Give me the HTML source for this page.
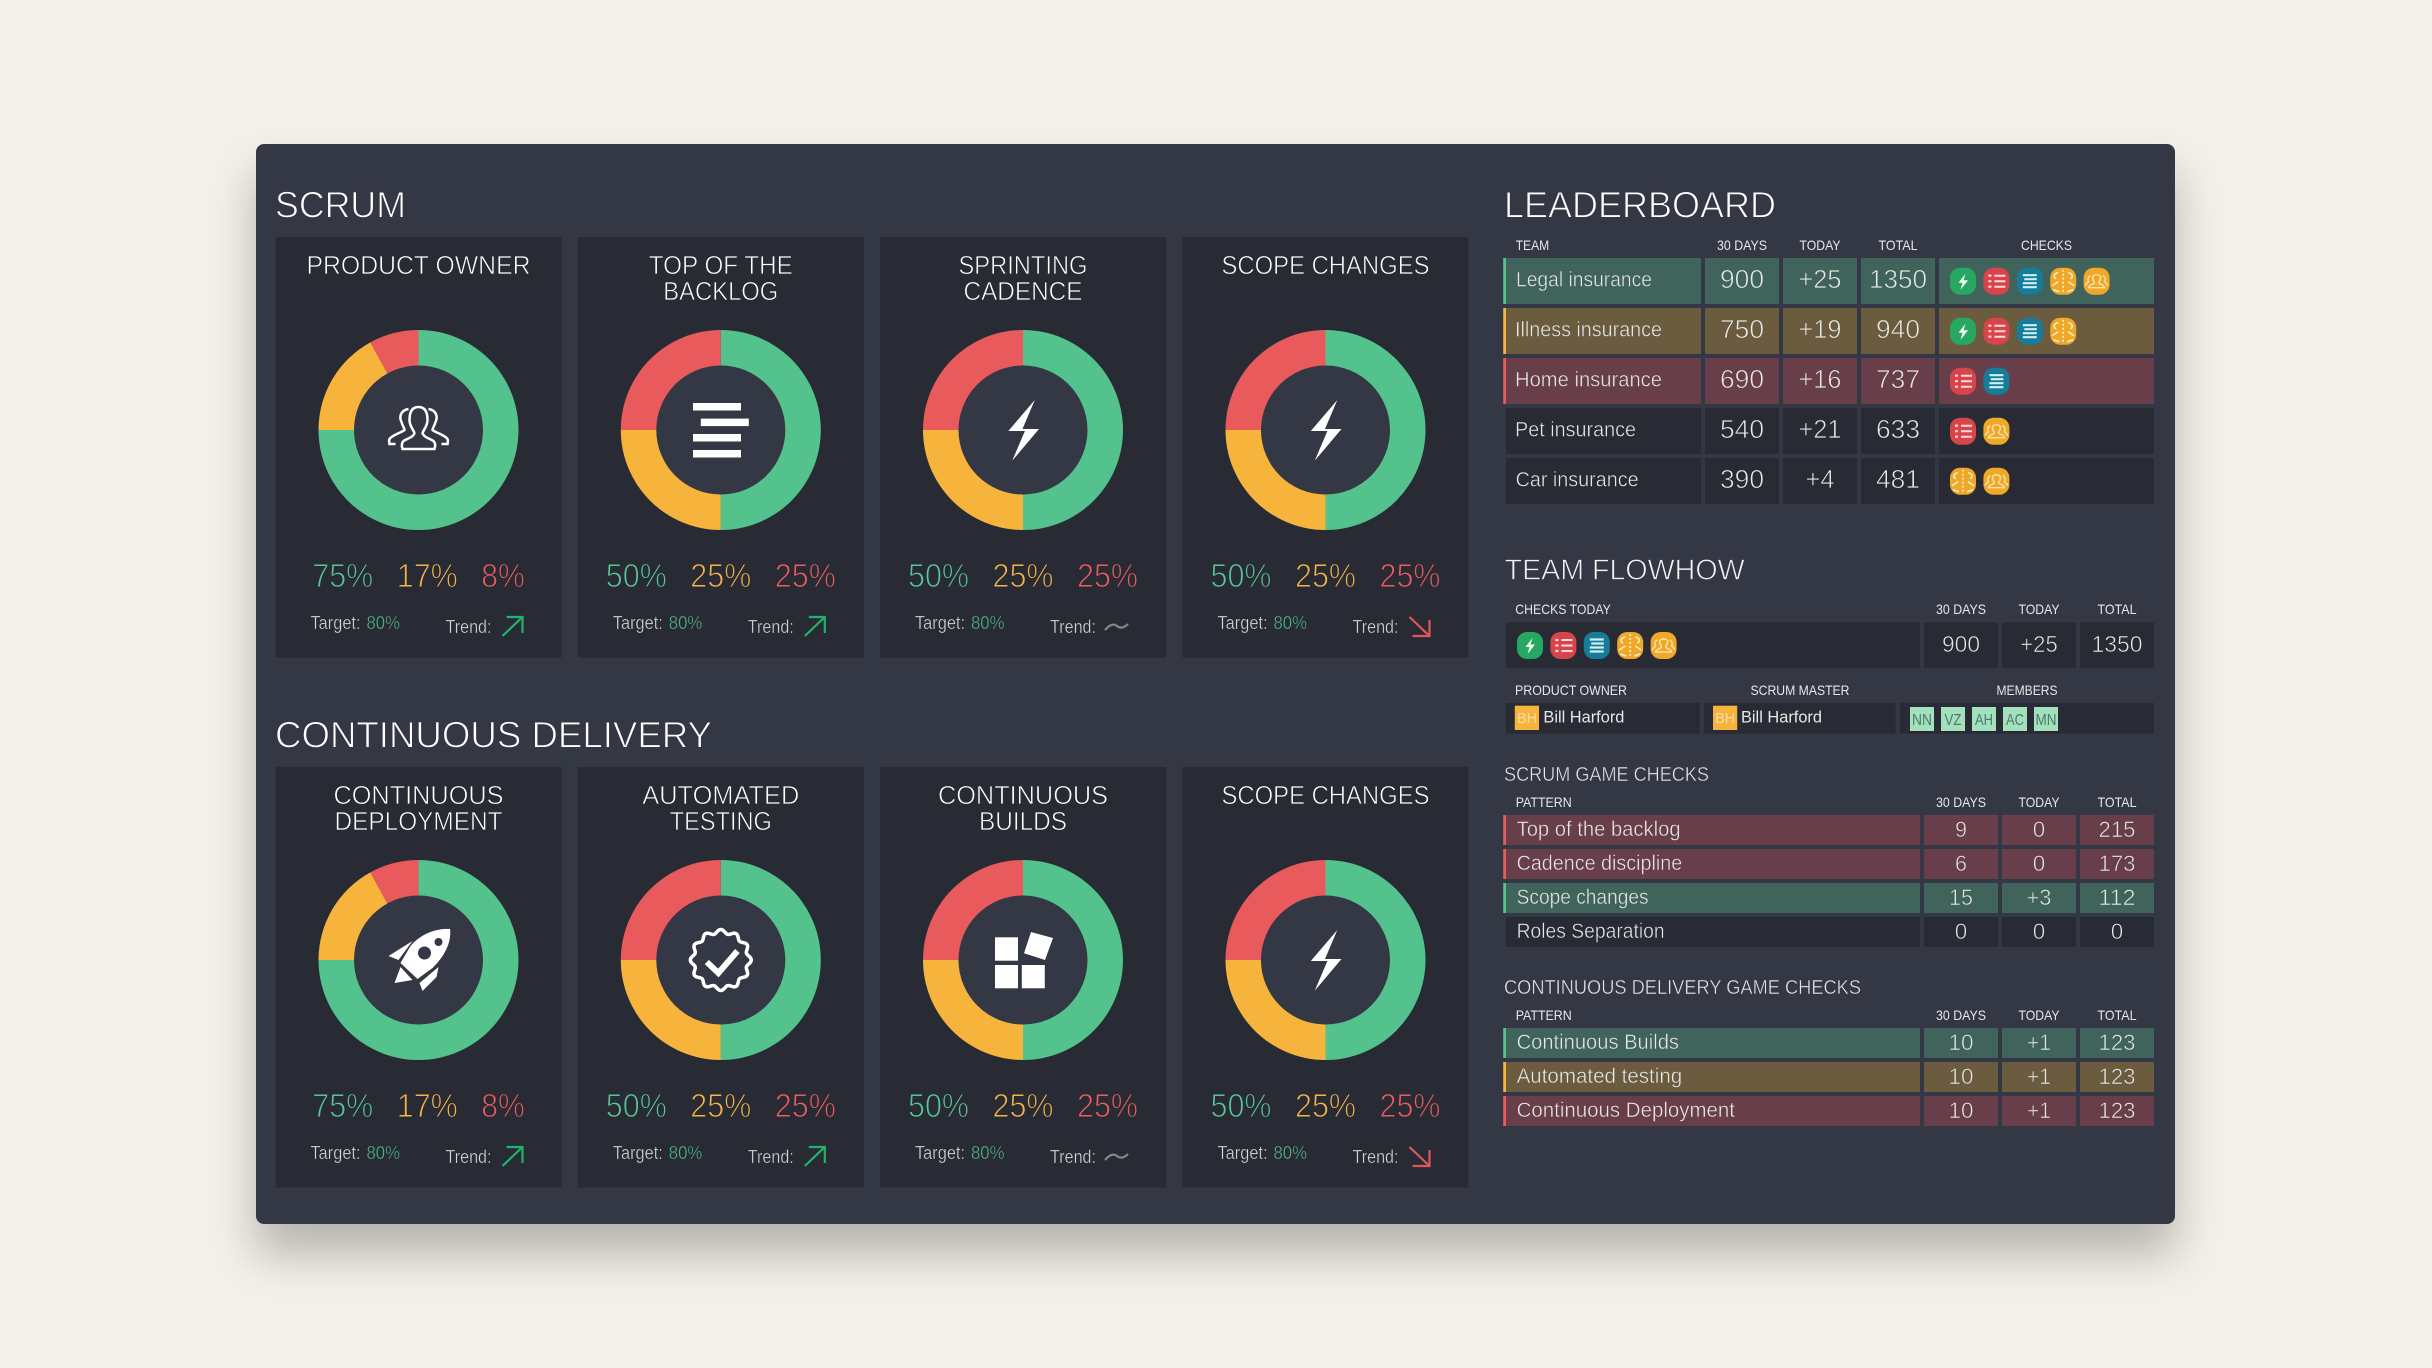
<!DOCTYPE html>
<html lang="en">
<head>
<meta charset="utf-8">
<title>Scrum dashboard</title>
<style>
html,body{margin:0;padding:0;width:2432px;height:1368px;overflow:hidden;background:#f3f0e9;font-family:"Liberation Sans",sans-serif}
#panel{position:absolute;left:256px;top:144px;width:1919px;height:1080px;border-radius:8px;background:#343744;box-shadow:0 30px 45px rgba(0,0,0,.25)}
#stage{position:absolute;left:0;top:0}
text{font-family:"Liberation Sans",sans-serif;fill:#e6e8e6;stroke-width:.45px}
.card{fill:#292b34}
.h1{font-size:37px;fill:#fff;stroke-width:1px}
.h2{font-size:29px;fill:#f2f3f2;stroke-width:.8px}
.h3{font-size:20px;fill:#e6e8e6;stroke-width:.45px}
.ct{font-size:26px;text-anchor:middle;fill:#fff;stroke-width:.7px}
.tg{font-size:18px;fill:#d5d9d9;stroke-width:.35px}
.tv{font-size:18px;fill:#4fb386;stroke-width:.35px}
.pc{font-size:33px;stroke-width:1px;stroke:#292b34}
.th{font-size:14px;fill:#e6e8e6;stroke-width:0}
.mid{text-anchor:middle}
.name{font-size:21px}
.val{font-size:26px;text-anchor:middle;stroke-width:.7px}
.val2{font-size:23px;text-anchor:middle;stroke-width:.6px}
.val3{font-size:22px;text-anchor:middle;stroke-width:.6px}
.cg{fill:#40645c}.co{fill:#6b5b3f}.cr{fill:#673e49}.cd{fill:#292b34}
.ag{fill:#54c28d}.ao{fill:#f6b43c}.ar{fill:#e85a5c}
.up{fill:none;stroke:#1fb36b;stroke-width:2.2}
.dn{fill:none;stroke:#e0565a;stroke-width:2.2}
.fl{fill:none;stroke:#85868c;stroke-width:2.2}
.hole{fill:#343744}
</style>
</head>
<body>
<div id="panel"></div>
<svg id="stage" width="2432" height="1368" viewBox="0 0 2432 1368" xmlns="http://www.w3.org/2000/svg">
<defs>
<g id="b-bolt"><rect width="26" height="27" rx="10" fill="#27a862"/><polygon points="15.5,6 8.5,15 12.5,15 10.5,22 18,12.5 13.5,12.5" fill="#f2fff6"/></g>
<g id="b-list"><rect width="26" height="27" rx="10" fill="#d9434a"/><path d="M11,8H22M11,13.5H22M11,19H22" stroke="#ffdcdc" stroke-width="2" fill="none"/><path d="M5,8H8M5,13.5H8M5,19H8" stroke="#ffdcdc" stroke-width="2.2" fill="none"/></g>
<g id="b-lines"><rect width="26" height="27" rx="10" fill="#167c99"/><path d="M6,7.5H20M7.5,11.5H20M6,15.5H20M6,19.5H20" stroke="#cdf0f4" stroke-width="2.2" fill="none"/></g>
<g id="b-play"><rect width="26" height="27" rx="10" fill="#f0a828"/><path d="M13,2V25" stroke="#ffeecb" stroke-width="1.6" stroke-dasharray="2 2" fill="none"/><path d="M8,5C3,6 3,10 6,11M2,18L8,14M3,22L9,24M18,5C23,6 23,10 20,11M24,18L18,14M23,22L17,24" stroke="#ffeecb" stroke-width="1.5" fill="none"/></g>
<g id="b-people"><rect width="26" height="27" rx="10" fill="#f0a828"/><path d="M9,10C9,6 17,6 17,10C17,13 15,14 15,15C16,17 21,17 21,20H5C5,17 10,17 11,15C11,14 9,13 9,10ZM7,8C4,9 4,12 5,14C4,15 2,16 2,18M19,8C22,9 22,12 21,14C22,15 24,16 24,18" stroke="#ffe3ae" stroke-width="1.4" fill="none"/></g>
<polygon id="ic-bolt" points="11.8,-30 -14.7,1 1.9,1 -10.8,30.7 16,-1 -0.5,-1" fill="#fff"/>
</defs>

<text class="h1" stroke="#343744" x="275" y="217.5" textLength="131" lengthAdjust="spacingAndGlyphs">SCRUM</text>
<text class="h1" stroke="#343744" x="275" y="747.5" textLength="437" lengthAdjust="spacingAndGlyphs">CONTINUOUS DELIVERY</text>

<!-- CARD 0 -->
<g transform="translate(418.5,430)">
<rect class="card" x="-143" y="-193" width="286" height="420.5"/>
<g stroke="#292b34">
<text class="ct" x="0" y="-156" textLength="224" lengthAdjust="spacingAndGlyphs">PRODUCT OWNER</text>
<text class="tg" x="-108" y="199" textLength="50" lengthAdjust="spacingAndGlyphs">Target:</text>
<text class="tv" x="-52" y="199" textLength="33.5" lengthAdjust="spacingAndGlyphs">80%</text>
<text class="tg" x="27" y="203" textLength="46" lengthAdjust="spacingAndGlyphs">Trend:</text>
</g>
<path class="up" d="M84,206L104,187M88,187H104V203"/>
<g id="donut-0"></g>
<circle class="hole" r="64.5"/>
<g fill="none" stroke="#fff" stroke-width="2.5">
<path d="M-9,-10C-9,-20 -5,-23 0,-23C5,-23 9,-20 9,-10C9,-4 5,0 4,3C5,7 10,8 15,11C17,13 17,16 16,19L-16,19C-17,16 -17,13 -15,11C-10,8 -5,7 -4,3C-5,0 -9,-4 -9,-10Z"/>
<path d="M-10,-21C-17,-20 -20,-14 -17,-8C-16,-4 -14,-2 -14,0C-18,3 -26,5 -29,9C-30,11 -29,13 -29,14L-23,14"/>
<path d="M10,-21C17,-20 20,-14 17,-8C16,-4 14,-2 14,0C18,3 26,5 29,9C30,11 29,13 29,14L23,14"/>
</g>
</g>

<!-- CARD 1 -->
<g transform="translate(720.8,430)">
<rect class="card" x="-143" y="-193" width="286" height="420.5"/>
<g stroke="#292b34">
<text class="ct" x="0" y="-156" textLength="144" lengthAdjust="spacingAndGlyphs">TOP OF THE</text>
<text class="ct" x="0" y="-130" textLength="115" lengthAdjust="spacingAndGlyphs">BACKLOG</text>
<text class="tg" x="-108" y="199" textLength="50" lengthAdjust="spacingAndGlyphs">Target:</text>
<text class="tv" x="-52" y="199" textLength="33.5" lengthAdjust="spacingAndGlyphs">80%</text>
<text class="tg" x="27" y="203" textLength="46" lengthAdjust="spacingAndGlyphs">Trend:</text>
</g>
<path class="up" d="M84,206L104,187M88,187H104V203"/>
<g id="donut-1"></g>
<circle class="hole" r="64.5"/>
<g fill="#fff">
<rect x="-27.8" y="-27" width="48" height="7.5"/>
<rect x="-20" y="-11.4" width="48" height="7.5"/>
<rect x="-27.8" y="4" width="48" height="7.5"/>
<rect x="-27.8" y="20" width="48" height="7.5"/>
</g>
</g>

<!-- CARD 2 -->
<g transform="translate(1023,430)">
<rect class="card" x="-143" y="-193" width="286" height="420.5"/>
<g stroke="#292b34">
<text class="ct" x="0" y="-156" textLength="129" lengthAdjust="spacingAndGlyphs">SPRINTING</text>
<text class="ct" x="0" y="-130" textLength="119" lengthAdjust="spacingAndGlyphs">CADENCE</text>
<text class="tg" x="-108" y="199" textLength="50" lengthAdjust="spacingAndGlyphs">Target:</text>
<text class="tv" x="-52" y="199" textLength="33.5" lengthAdjust="spacingAndGlyphs">80%</text>
<text class="tg" x="27" y="203" textLength="46" lengthAdjust="spacingAndGlyphs">Trend:</text>
</g>
<path class="fl" d="M82,200Q89,192 94,196T105,194"/>
<g id="donut-2"></g>
<circle class="hole" r="64.5"/>
<use href="#ic-bolt"/>
</g>

<!-- CARD 3 -->
<g transform="translate(1325.5,430)">
<rect class="card" x="-143" y="-193" width="286" height="420.5"/>
<g stroke="#292b34">
<text class="ct" x="0" y="-156" textLength="208" lengthAdjust="spacingAndGlyphs">SCOPE CHANGES</text>
<text class="tg" x="-108" y="199" textLength="50" lengthAdjust="spacingAndGlyphs">Target:</text>
<text class="tv" x="-52" y="199" textLength="33.5" lengthAdjust="spacingAndGlyphs">80%</text>
<text class="tg" x="27" y="203" textLength="46" lengthAdjust="spacingAndGlyphs">Trend:</text>
</g>
<path class="dn" d="M84,187L104,206M104,190V206H87"/>
<g id="donut-3"></g>
<circle class="hole" r="64.5"/>
<use href="#ic-bolt"/>
</g>

<!-- CARD 4 -->
<g transform="translate(418.5,960)">
<rect class="card" x="-143" y="-193" width="286" height="420.5"/>
<g stroke="#292b34">
<text class="ct" x="0" y="-156" textLength="170" lengthAdjust="spacingAndGlyphs">CONTINUOUS</text>
<text class="ct" x="0" y="-130" textLength="168" lengthAdjust="spacingAndGlyphs">DEPLOYMENT</text>
<text class="tg" x="-108" y="199" textLength="50" lengthAdjust="spacingAndGlyphs">Target:</text>
<text class="tv" x="-52" y="199" textLength="33.5" lengthAdjust="spacingAndGlyphs">80%</text>
<text class="tg" x="27" y="203" textLength="46" lengthAdjust="spacingAndGlyphs">Trend:</text>
</g>
<path class="up" d="M84,206L104,187M88,187H104V203"/>
<g id="donut-4"></g>
<circle class="hole" r="64.5"/>
<g fill="#fff">
<path d="M31.6,-31C18,-32 2,-26 -8,-14L-18,3L-1,19L14,8C26,-4 33,-17 31.6,-31Z"/>
<path d="M-30,-4L-6,-19L-20,0Z"/>
<path d="M-24,23L-18,7L-6,20Z"/>
<path d="M4,31L1,23L20,7L18,17Z"/>
<circle class="hole" cx="6" cy="-7" r="6.5"/>
<circle class="hole" cx="20" cy="-18" r="4"/>
</g>
</g>

<!-- CARD 5 -->
<g transform="translate(720.8,960)">
<rect class="card" x="-143" y="-193" width="286" height="420.5"/>
<g stroke="#292b34">
<text class="ct" x="0" y="-156" textLength="157" lengthAdjust="spacingAndGlyphs">AUTOMATED</text>
<text class="ct" x="0" y="-130" textLength="102" lengthAdjust="spacingAndGlyphs">TESTING</text>
<text class="tg" x="-108" y="199" textLength="50" lengthAdjust="spacingAndGlyphs">Target:</text>
<text class="tv" x="-52" y="199" textLength="33.5" lengthAdjust="spacingAndGlyphs">80%</text>
<text class="tg" x="27" y="203" textLength="46" lengthAdjust="spacingAndGlyphs">Trend:</text>
</g>
<path class="up" d="M84,206L104,187M88,187H104V203"/>
<g id="donut-5"></g>
<circle class="hole" r="64.5"/>
<g fill="none" stroke="#fff">
<path id="wavy-badge" stroke-width="3.5"/>
<path d="M-14,2L-2.4,13L16.6,-9" stroke-width="6"/>
</g>
</g>

<!-- CARD 6 -->
<g transform="translate(1023,960)">
<rect class="card" x="-143" y="-193" width="286" height="420.5"/>
<g stroke="#292b34">
<text class="ct" x="0" y="-156" textLength="170" lengthAdjust="spacingAndGlyphs">CONTINUOUS</text>
<text class="ct" x="0" y="-130" textLength="88" lengthAdjust="spacingAndGlyphs">BUILDS</text>
<text class="tg" x="-108" y="199" textLength="50" lengthAdjust="spacingAndGlyphs">Target:</text>
<text class="tv" x="-52" y="199" textLength="33.5" lengthAdjust="spacingAndGlyphs">80%</text>
<text class="tg" x="27" y="203" textLength="46" lengthAdjust="spacingAndGlyphs">Trend:</text>
</g>
<path class="fl" d="M82,200Q89,192 94,196T105,194"/>
<g id="donut-6"></g>
<circle class="hole" r="64.5"/>
<g fill="#fff">
<rect x="-28" y="-22.7" width="23" height="23.4"/>
<rect x="-28" y="5" width="23" height="23.3"/>
<rect x="-1.2" y="5" width="23" height="23.3"/>
<polygon points="8,-28 30,-22 22,0 1,-6.7"/>
</g>
</g>

<!-- CARD 7 -->
<g transform="translate(1325.5,960)">
<rect class="card" x="-143" y="-193" width="286" height="420.5"/>
<g stroke="#292b34">
<text class="ct" x="0" y="-156" textLength="208" lengthAdjust="spacingAndGlyphs">SCOPE CHANGES</text>
<text class="tg" x="-108" y="199" textLength="50" lengthAdjust="spacingAndGlyphs">Target:</text>
<text class="tv" x="-52" y="199" textLength="33.5" lengthAdjust="spacingAndGlyphs">80%</text>
<text class="tg" x="27" y="203" textLength="46" lengthAdjust="spacingAndGlyphs">Trend:</text>
</g>
<path class="dn" d="M84,187L104,206M104,190V206H87"/>
<g id="donut-7"></g>
<circle class="hole" r="64.5"/>
<use href="#ic-bolt"/>
</g>

<!-- LEADERBOARD -->
<text class="h1" stroke="#343744" x="1504" y="217.7" textLength="272" lengthAdjust="spacingAndGlyphs">LEADERBOARD</text>
<g>
<text class="th" x="1515.7" y="250" textLength="33.5" lengthAdjust="spacingAndGlyphs">TEAM</text>
<text class="th mid" x="1742" y="250" textLength="50" lengthAdjust="spacingAndGlyphs">30 DAYS</text>
<text class="th mid" x="1820" y="250" textLength="41" lengthAdjust="spacingAndGlyphs">TODAY</text>
<text class="th mid" x="1898" y="250" textLength="39" lengthAdjust="spacingAndGlyphs">TOTAL</text>
<text class="th mid" x="2046.5" y="250" textLength="51" lengthAdjust="spacingAndGlyphs">CHECKS</text>
</g>

<g transform="translate(0,258)">
<rect class="ag" x="1503.2" width="3" height="46"/>
<rect class="cg" x="1506" width="195" height="46"/><rect class="cg" x="1705" width="74" height="46"/><rect class="cg" x="1783" width="74" height="46"/><rect class="cg" x="1861" width="74" height="46"/><rect class="cg" x="1939" width="215" height="46"/>
<g stroke="#40645c">
<text class="name" x="1516" y="28.7" textLength="136" lengthAdjust="spacingAndGlyphs">Legal insurance</text>
<text class="val" x="1742" y="30" textLength="44" lengthAdjust="spacingAndGlyphs">900</text>
<text class="val" x="1820" y="30" textLength="43" lengthAdjust="spacingAndGlyphs">+25</text>
<text class="val" x="1898" y="30" textLength="58" lengthAdjust="spacingAndGlyphs">1350</text>
</g>
<use href="#b-bolt" x="1950" y="9.7"/>
<use href="#b-list" x="1983.4" y="9.7"/>
<use href="#b-lines" x="2016.8" y="9.7"/>
<use href="#b-play" x="2050.2" y="9.7"/>
<use href="#b-people" x="2083.6" y="9.7"/>
</g>

<g transform="translate(0,308)">
<rect class="ao" x="1503.2" width="3" height="46"/>
<rect class="co" x="1506" width="195" height="46"/><rect class="co" x="1705" width="74" height="46"/><rect class="co" x="1783" width="74" height="46"/><rect class="co" x="1861" width="74" height="46"/><rect class="co" x="1939" width="215" height="46"/>
<g stroke="#6b5b3f">
<text class="name" x="1515" y="28.7" textLength="147" lengthAdjust="spacingAndGlyphs">Illness insurance</text>
<text class="val" x="1742" y="30" textLength="44" lengthAdjust="spacingAndGlyphs">750</text>
<text class="val" x="1820" y="30" textLength="43" lengthAdjust="spacingAndGlyphs">+19</text>
<text class="val" x="1898" y="30" textLength="44" lengthAdjust="spacingAndGlyphs">940</text>
</g>
<use href="#b-bolt" x="1950" y="9.7"/>
<use href="#b-list" x="1983.4" y="9.7"/>
<use href="#b-lines" x="2016.8" y="9.7"/>
<use href="#b-play" x="2050.2" y="9.7"/>
</g>

<g transform="translate(0,358)">
<rect class="ar" x="1503.2" width="3" height="46"/>
<rect class="cr" x="1506" width="195" height="46"/><rect class="cr" x="1705" width="74" height="46"/><rect class="cr" x="1783" width="74" height="46"/><rect class="cr" x="1861" width="74" height="46"/><rect class="cr" x="1939" width="215" height="46"/>
<g stroke="#673e49">
<text class="name" x="1515" y="28.7" textLength="147" lengthAdjust="spacingAndGlyphs">Home insurance</text>
<text class="val" x="1742" y="30" textLength="44" lengthAdjust="spacingAndGlyphs">690</text>
<text class="val" x="1820" y="30" textLength="43" lengthAdjust="spacingAndGlyphs">+16</text>
<text class="val" x="1898" y="30" textLength="44" lengthAdjust="spacingAndGlyphs">737</text>
</g>
<use href="#b-list" x="1950" y="9.7"/>
<use href="#b-lines" x="1983.4" y="9.7"/>
</g>

<g transform="translate(0,408)">
<rect class="cd" x="1506" width="195" height="46"/><rect class="cd" x="1705" width="74" height="46"/><rect class="cd" x="1783" width="74" height="46"/><rect class="cd" x="1861" width="74" height="46"/><rect class="cd" x="1939" width="215" height="46"/>
<g stroke="#292b34">
<text class="name" x="1515" y="28.7" textLength="121" lengthAdjust="spacingAndGlyphs">Pet insurance</text>
<text class="val" x="1742" y="30" textLength="44" lengthAdjust="spacingAndGlyphs">540</text>
<text class="val" x="1820" y="30" textLength="43" lengthAdjust="spacingAndGlyphs">+21</text>
<text class="val" x="1898" y="30" textLength="44" lengthAdjust="spacingAndGlyphs">633</text>
</g>
<use href="#b-list" x="1950" y="9.7"/>
<use href="#b-people" x="1983.4" y="9.7"/>
</g>

<g transform="translate(0,458)">
<rect class="cd" x="1506" width="195" height="46"/><rect class="cd" x="1705" width="74" height="46"/><rect class="cd" x="1783" width="74" height="46"/><rect class="cd" x="1861" width="74" height="46"/><rect class="cd" x="1939" width="215" height="46"/>
<g stroke="#292b34">
<text class="name" x="1515.6" y="28.7" textLength="123" lengthAdjust="spacingAndGlyphs">Car insurance</text>
<text class="val" x="1742" y="30" textLength="44" lengthAdjust="spacingAndGlyphs">390</text>
<text class="val" x="1820" y="30" textLength="29" lengthAdjust="spacingAndGlyphs">+4</text>
<text class="val" x="1898" y="30" textLength="44" lengthAdjust="spacingAndGlyphs">481</text>
</g>
<use href="#b-play" x="1950" y="9.7"/>
<use href="#b-people" x="1983.4" y="9.7"/>
</g>

<!-- TEAM FLOWHOW -->
<text class="h2" stroke="#343744" x="1504.6" y="579.3" textLength="240" lengthAdjust="spacingAndGlyphs">TEAM FLOWHOW</text>
<g>
<text class="th" x="1515.3" y="614" textLength="95.5" lengthAdjust="spacingAndGlyphs">CHECKS TODAY</text>
<text class="th mid" x="1961" y="614" textLength="50" lengthAdjust="spacingAndGlyphs">30 DAYS</text>
<text class="th mid" x="2039" y="614" textLength="41" lengthAdjust="spacingAndGlyphs">TODAY</text>
<text class="th mid" x="2117" y="614" textLength="39" lengthAdjust="spacingAndGlyphs">TOTAL</text>
</g>
<g>
<rect class="cd" x="1506" y="622.7" width="414" height="45"/><rect class="cd" x="1924" y="622.7" width="74" height="45"/><rect class="cd" x="2002" y="622.7" width="74" height="45"/><rect class="cd" x="2080" y="622.7" width="74" height="45"/>
<use href="#b-bolt" x="1517" y="632"/>
<use href="#b-list" x="1550.4" y="632"/>
<use href="#b-lines" x="1583.8" y="632"/>
<use href="#b-play" x="1617.2" y="632"/>
<use href="#b-people" x="1650.6" y="632"/>
<g stroke="#292b34">
<text class="val2" x="1961" y="652" textLength="38" lengthAdjust="spacingAndGlyphs">900</text>
<text class="val2" x="2039" y="652" textLength="37.5" lengthAdjust="spacingAndGlyphs">+25</text>
<text class="val2" x="2117" y="652" textLength="51" lengthAdjust="spacingAndGlyphs">1350</text>
</g>
</g>
<g>
<text class="th" x="1515" y="695" textLength="112" lengthAdjust="spacingAndGlyphs">PRODUCT OWNER</text>
<text class="th" x="1750.5" y="695" textLength="99" lengthAdjust="spacingAndGlyphs">SCRUM MASTER</text>
<text class="th" x="1996.5" y="695" textLength="61" lengthAdjust="spacingAndGlyphs">MEMBERS</text>
</g>
<g>
<rect class="cd" x="1506" y="703" width="193.6" height="30.7"/><rect class="cd" x="1704" y="703" width="191.6" height="30.7"/><rect class="cd" x="1900" y="703" width="254" height="30.7"/>
<g>
<rect class="ao" x="1514.8" y="705.7" width="24.2" height="24.3"/>
<text x="1517" y="723" font-size="15" textLength="20" lengthAdjust="spacingAndGlyphs" style="fill:#f9dca6;stroke-width:0">BH</text>
<text x="1543.4" y="722.3" font-size="17" textLength="81" lengthAdjust="spacingAndGlyphs" style="fill:#e6e8e6;stroke-width:0">Bill Harford</text>
</g>
<g>
<rect class="ao" x="1713" y="705.7" width="24.2" height="24.3"/>
<text x="1715.2" y="723" font-size="15" textLength="20" lengthAdjust="spacingAndGlyphs" style="fill:#f9dca6;stroke-width:0">BH</text>
<text x="1741" y="722.3" font-size="17" textLength="81" lengthAdjust="spacingAndGlyphs" style="fill:#e6e8e6;stroke-width:0">Bill Harford</text>
</g>
<g>
<rect x="1910" y="707" width="24" height="24" fill="#a3e0bd"/>
<rect x="1941" y="707" width="24" height="24" fill="#a3e0bd"/>
<rect x="1972" y="707" width="24" height="24" fill="#a3e0bd"/>
<rect x="2003" y="707" width="24" height="24" fill="#a3e0bd"/>
<rect x="2034" y="707" width="24" height="24" fill="#a3e0bd"/>
<text class="mid" x="1922" y="725" font-size="16" textLength="20" lengthAdjust="spacingAndGlyphs" style="fill:#4d7a68;stroke-width:0">NN</text>
<text class="mid" x="1953" y="725" font-size="16" textLength="17" lengthAdjust="spacingAndGlyphs" style="fill:#4d7a68;stroke-width:0">VZ</text>
<text class="mid" x="1984" y="725" font-size="16" textLength="18" lengthAdjust="spacingAndGlyphs" style="fill:#4d7a68;stroke-width:0">AH</text>
<text class="mid" x="2015" y="725" font-size="16" textLength="18" lengthAdjust="spacingAndGlyphs" style="fill:#4d7a68;stroke-width:0">AC</text>
<text class="mid" x="2046" y="725" font-size="16" textLength="21" lengthAdjust="spacingAndGlyphs" style="fill:#4d7a68;stroke-width:0">MN</text>
</g>
</g>

<!-- SCRUM GAME CHECKS -->
<text class="h3" stroke="#343744" x="1504" y="781" textLength="205" lengthAdjust="spacingAndGlyphs">SCRUM GAME CHECKS</text>
<g>
<text class="th" x="1515.7" y="807" textLength="56" lengthAdjust="spacingAndGlyphs">PATTERN</text>
<text class="th mid" x="1961" y="807" textLength="50" lengthAdjust="spacingAndGlyphs">30 DAYS</text>
<text class="th mid" x="2039" y="807" textLength="41" lengthAdjust="spacingAndGlyphs">TODAY</text>
<text class="th mid" x="2117" y="807" textLength="39" lengthAdjust="spacingAndGlyphs">TOTAL</text>
</g>

<g transform="translate(0,815)">
<rect class="ar" x="1503.2" width="3" height="30"/>
<rect class="cr" x="1506" width="414" height="30"/><rect class="cr" x="1924" width="74" height="30"/><rect class="cr" x="2002" width="74" height="30"/><rect class="cr" x="2080" width="74" height="30"/>
<g stroke="#673e49">
<text class="name" x="1516.6" y="21" textLength="164" lengthAdjust="spacingAndGlyphs">Top of the backlog</text>
<text class="val3" x="1961" y="22" textLength="12" lengthAdjust="spacingAndGlyphs">9</text>
<text class="val3" x="2039" y="22" textLength="12.5" lengthAdjust="spacingAndGlyphs">0</text>
<text class="val3" x="2117" y="22" textLength="37" lengthAdjust="spacingAndGlyphs">215</text>
</g>
</g>
<g transform="translate(0,849)">
<rect class="ar" x="1503.2" width="3" height="30"/>
<rect class="cr" x="1506" width="414" height="30"/><rect class="cr" x="1924" width="74" height="30"/><rect class="cr" x="2002" width="74" height="30"/><rect class="cr" x="2080" width="74" height="30"/>
<g stroke="#673e49">
<text class="name" x="1516.6" y="21" textLength="165.6" lengthAdjust="spacingAndGlyphs">Cadence discipline</text>
<text class="val3" x="1961" y="22" textLength="12" lengthAdjust="spacingAndGlyphs">6</text>
<text class="val3" x="2039" y="22" textLength="12.5" lengthAdjust="spacingAndGlyphs">0</text>
<text class="val3" x="2117" y="22" textLength="37" lengthAdjust="spacingAndGlyphs">173</text>
</g>
</g>
<g transform="translate(0,883)">
<rect class="ag" x="1503.2" width="3" height="30"/>
<rect class="cg" x="1506" width="414" height="30"/><rect class="cg" x="1924" width="74" height="30"/><rect class="cg" x="2002" width="74" height="30"/><rect class="cg" x="2080" width="74" height="30"/>
<g stroke="#40645c">
<text class="name" x="1516.6" y="21" textLength="132" lengthAdjust="spacingAndGlyphs">Scope changes</text>
<text class="val3" x="1961" y="22" textLength="24" lengthAdjust="spacingAndGlyphs">15</text>
<text class="val3" x="2039" y="22" textLength="25" lengthAdjust="spacingAndGlyphs">+3</text>
<text class="val3" x="2117" y="22" textLength="37" lengthAdjust="spacingAndGlyphs">112</text>
</g>
</g>
<g transform="translate(0,917)">
<rect class="cd" x="1506" width="414" height="30"/><rect class="cd" x="1924" width="74" height="30"/><rect class="cd" x="2002" width="74" height="30"/><rect class="cd" x="2080" width="74" height="30"/>
<g stroke="#292b34">
<text class="name" x="1516.6" y="21" textLength="148" lengthAdjust="spacingAndGlyphs">Roles Separation</text>
<text class="val3" x="1961" y="22" textLength="12.5" lengthAdjust="spacingAndGlyphs">0</text>
<text class="val3" x="2039" y="22" textLength="12.5" lengthAdjust="spacingAndGlyphs">0</text>
<text class="val3" x="2117" y="22" textLength="12.5" lengthAdjust="spacingAndGlyphs">0</text>
</g>
</g>

<!-- CD GAME CHECKS -->
<text class="h3" stroke="#343744" x="1504" y="994" textLength="357" lengthAdjust="spacingAndGlyphs">CONTINUOUS DELIVERY GAME CHECKS</text>
<g>
<text class="th" x="1515.7" y="1020" textLength="56" lengthAdjust="spacingAndGlyphs">PATTERN</text>
<text class="th mid" x="1961" y="1020" textLength="50" lengthAdjust="spacingAndGlyphs">30 DAYS</text>
<text class="th mid" x="2039" y="1020" textLength="41" lengthAdjust="spacingAndGlyphs">TODAY</text>
<text class="th mid" x="2117" y="1020" textLength="39" lengthAdjust="spacingAndGlyphs">TOTAL</text>
</g>
<g transform="translate(0,1028)">
<rect class="ag" x="1503.2" width="3" height="30"/>
<rect class="cg" x="1506" width="414" height="30"/><rect class="cg" x="1924" width="74" height="30"/><rect class="cg" x="2002" width="74" height="30"/><rect class="cg" x="2080" width="74" height="30"/>
<g stroke="#40645c">
<text class="name" x="1516.6" y="21" textLength="162.4" lengthAdjust="spacingAndGlyphs">Continuous Builds</text>
<text class="val3" x="1961" y="22" textLength="25" lengthAdjust="spacingAndGlyphs">10</text>
<text class="val3" x="2039" y="22" textLength="24" lengthAdjust="spacingAndGlyphs">+1</text>
<text class="val3" x="2117" y="22" textLength="37" lengthAdjust="spacingAndGlyphs">123</text>
</g>
</g>
<g transform="translate(0,1062)">
<rect class="ao" x="1503.2" width="3" height="30"/>
<rect class="co" x="1506" width="414" height="30"/><rect class="co" x="1924" width="74" height="30"/><rect class="co" x="2002" width="74" height="30"/><rect class="co" x="2080" width="74" height="30"/>
<g stroke="#6b5b3f">
<text class="name" x="1516.6" y="21" textLength="165.6" lengthAdjust="spacingAndGlyphs">Automated testing</text>
<text class="val3" x="1961" y="22" textLength="25" lengthAdjust="spacingAndGlyphs">10</text>
<text class="val3" x="2039" y="22" textLength="24" lengthAdjust="spacingAndGlyphs">+1</text>
<text class="val3" x="2117" y="22" textLength="37" lengthAdjust="spacingAndGlyphs">123</text>
</g>
</g>
<g transform="translate(0,1096)">
<rect class="ar" x="1503.2" width="3" height="30"/>
<rect class="cr" x="1506" width="414" height="30"/><rect class="cr" x="1924" width="74" height="30"/><rect class="cr" x="2002" width="74" height="30"/><rect class="cr" x="2080" width="74" height="30"/>
<g stroke="#673e49">
<text class="name" x="1516.6" y="21" textLength="218.4" lengthAdjust="spacingAndGlyphs">Continuous Deployment</text>
<text class="val3" x="1961" y="22" textLength="25" lengthAdjust="spacingAndGlyphs">10</text>
<text class="val3" x="2039" y="22" textLength="24" lengthAdjust="spacingAndGlyphs">+1</text>
<text class="val3" x="2117" y="22" textLength="37" lengthAdjust="spacingAndGlyphs">123</text>
</g>
</g>
</svg>

<script>
const donutCategories = ["product-owner", "top-of-the-backlog", "sprinting-cadence", "scope-changes", "continuous-deployment", "automated-testing", "continuous-builds", "delivery-scope-changes"];
const greenValues = [75, 50, 50, 50, 75, 50, 50, 50];
const orangeValues = [17, 25, 25, 25, 17, 25, 25, 25];
const redValues = [8, 25, 25, 25, 8, 25, 25, 25];

const SVG_NS = "http://www.w3.org/2000/svg";
const OUTER_RADIUS = 100;
const LABEL_GAP = 23.5;
const LABEL_BASELINE = 157;

function angleAxis(value, total) {
  return value / total * 2 * Math.PI;
}
function wedgePath(start, end, r) {
  const sweep = Math.min(end - start, 2 * Math.PI - 0.0005);
  const stop = start + sweep;
  const large = sweep > Math.PI ? 1 : 0;
  const x0 = r * Math.sin(start), y0 = -r * Math.cos(start);
  const x1 = r * Math.sin(stop), y1 = -r * Math.cos(stop);
  return "M0,0L" + x0 + "," + y0 + "A" + r + "," + r + " 0 " + large + " 1 " + x1 + "," + y1 + "Z";
}
function labelWidth(label) {
  return (label.length - 1) * 17.5 + 26;
}

donutCategories.forEach(function (category, i) {
  const group = document.getElementById("donut-" + i);
  const segments = [
    { name: "green", value: greenValues[i], fill: "#54c28d", text: "#58c795" },
    { name: "orange", value: orangeValues[i], fill: "#f6b43c", text: "#f6b44a" },
    { name: "red", value: redValues[i], fill: "#e85a5c", text: "#ee5c60" }
  ];
  const total = segments.reduce(function (s, d) { return s + d.value; }, 0);
  const labels = segments.map(function (d) { return d.value + "%"; });
  const widths = labels.map(labelWidth);
  const rowWidth = widths.reduce(function (s, w) { return s + w; }, 0) + LABEL_GAP * 2;
  let angle = 0;
  let x = -rowWidth / 2;
  segments.forEach(function (d, j) {
    const next = angle + angleAxis(d.value, total);
    const slice = document.createElementNS(SVG_NS, "path");
    slice.setAttribute("d", wedgePath(angle, next, OUTER_RADIUS));
    slice.setAttribute("fill", d.fill);
    
    
    group.appendChild(slice);
    angle = next;

    const label = document.createElementNS(SVG_NS, "text");
    label.setAttribute("class", "pc");
    label.setAttribute("x", x);
    label.setAttribute("y", LABEL_BASELINE);
    label.setAttribute("textLength", widths[j]);
    label.setAttribute("lengthAdjust", "spacingAndGlyphs");
    label.style.fill = d.text;
    label.textContent = labels[j];
    
    
    group.appendChild(label);
    x += widths[j] + LABEL_GAP;
  });
});

(function () {
  let d = "";
  for (let k = 0; k <= 180; k++) {
    const t = k / 180 * 2 * Math.PI;
    const r = 28.5 + 2 * Math.cos(12 * t);
    d += (k ? "L" : "M") + (r * Math.sin(t)).toFixed(2) + "," + (-r * Math.cos(t)).toFixed(2);
  }
  const badge = document.getElementById("wavy-badge");
  badge.setAttribute("d", d + "Z");
})();
</script>
</body>
</html>
